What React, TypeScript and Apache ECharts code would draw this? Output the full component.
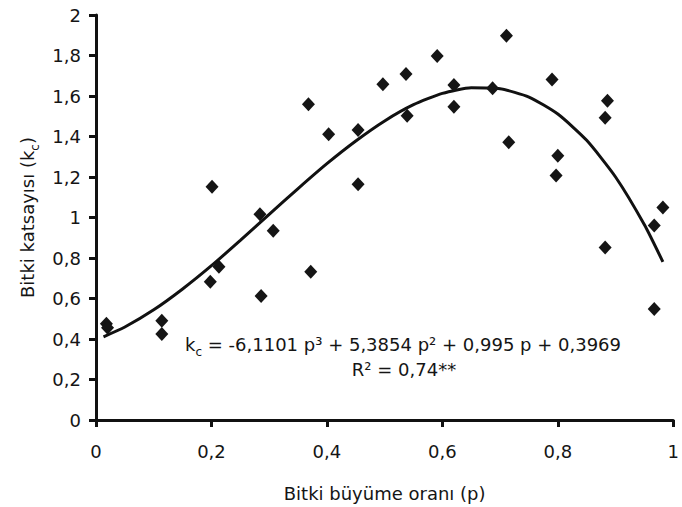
import React, { useEffect, useRef } from "react";
import * as echarts from "echarts";

// Measured points (p, kc)
const pointX = [0.018, 0.02, 0.114, 0.114, 0.198, 0.213, 0.201, 0.284, 0.307, 0.286, 0.368, 0.372, 0.403, 0.454, 0.454, 0.497, 0.537, 0.539, 0.591, 0.62, 0.62, 0.687, 0.711, 0.715, 0.79, 0.8, 0.797, 0.886, 0.882, 0.882, 0.967, 0.982, 0.967];
const pointY = [0.475, 0.455, 0.49, 0.425, 0.683, 0.757, 1.152, 1.016, 0.935, 0.612, 1.559, 0.732, 1.411, 1.432, 1.164, 1.658, 1.709, 1.503, 1.798, 1.654, 1.547, 1.638, 1.898, 1.371, 1.682, 1.305, 1.207, 1.577, 1.493, 0.852, 0.96, 1.05, 0.548];

// Trend curve
const curveX = [0.013, 0.05, 0.1, 0.15, 0.2, 0.25, 0.3, 0.35, 0.4, 0.45, 0.5, 0.55, 0.6, 0.65, 0.7, 0.75, 0.8, 0.85, 0.9, 0.95, 0.982];
const curveY = [0.411, 0.459, 0.544, 0.647, 0.762, 0.887, 1.015, 1.143, 1.266, 1.378, 1.477, 1.557, 1.613, 1.641, 1.636, 1.595, 1.511, 1.381, 1.2, 0.964, 0.781];

const xTitle = "Bitki büyüme oranı (p)";
const yTitle = "Bitki katsayısı (k{sub|c})";
const equation = "k{sub|c} = -6,1101 p³ + 5,3854 p² + 0,995 p + 0,3969";
const rSquared = "R² = 0,74**";

const FONT = "DejaVu Sans";
const INK = "#151515";

export default function App() {
  const ref = useRef<HTMLDivElement>(null);
  useEffect(() => {
    document.body.style.margin = "0";
    const chart = echarts.init(ref.current!, null, { renderer: "svg" });
    const fmt = (v: number) => String(Math.round(v * 10) / 10).replace(".", ",");
    const subRich = {
      sub: { fontSize: 12, fontFamily: FONT, color: INK, verticalAlign: "bottom", lineHeight: 12, padding: [0, 0, -5, 0] },
    };
    chart.setOption({
      animation: false,
      backgroundColor: "#ffffff",
      grid: { left: 96, right: 3, top: 15, bottom: 87, containLabel: false },
      xAxis: {
        type: "value",
        min: 0,
        max: 1,
        interval: 0.2,
        name: xTitle,
        nameLocation: "middle",
        nameGap: 64,
        nameTextStyle: { fontFamily: FONT, fontSize: 18, color: INK },
        axisLine: { onZero: false, lineStyle: { color: "#111", width: 3 } },
        axisTick: { length: 7, lineStyle: { color: "#111", width: 3 } },
        axisLabel: { margin: 22, fontFamily: FONT, fontSize: 18, color: INK, formatter: fmt },
        splitLine: { show: false },
      },
      yAxis: {
        type: "value",
        min: 0,
        max: 2,
        interval: 0.2,
        name: yTitle,
        nameLocation: "middle",
        nameGap: 60,
        nameRotate: 90,
        nameTextStyle: { fontFamily: FONT, fontSize: 18, color: INK, rich: subRich },
        axisLine: { onZero: false, lineStyle: { color: "#111", width: 3 } },
        axisTick: { length: 7, lineStyle: { color: "#111", width: 3 } },
        axisLabel: { margin: 15, fontFamily: FONT, fontSize: 18, color: INK, formatter: fmt },
        splitLine: { show: false },
      },
      series: [
        {
          type: "line",
          data: curveX.map((x, i) => [x, curveY[i]]),
          smooth: 0.2,
          showSymbol: false,
          lineStyle: { color: "#111", width: 3 },
          z: 2,
        },
        {
          type: "scatter",
          data: pointX.map((x, i) => [x, pointY[i]]),
          symbol: "diamond",
          symbolSize: [13, 14],
          itemStyle: { color: "#151515", opacity: 1 },
          z: 3,
        },
      ],
      graphic: [
        {
          type: "text",
          x: 403,
          y: 344,
          style: {
            text: equation,
            fontFamily: FONT,
            fontSize: 18,
            fill: INK,
            align: "center",
            verticalAlign: "middle",
            rich: {
              sub: { fontSize: 12, fontFamily: FONT, fill: INK, verticalAlign: "bottom", lineHeight: 12, padding: [0, 0, -5, 0] },
            },
          },
        },
        {
          type: "text",
          x: 404,
          y: 369,
          style: {
            text: rSquared,
            fontFamily: FONT,
            fontSize: 18,
            fill: INK,
            align: "center",
            verticalAlign: "middle",
          },
        },
      ],
    });
    return () => chart.dispose();
  }, []);
  return <div ref={ref} style={{ width: 682, height: 507 }} />;
}
